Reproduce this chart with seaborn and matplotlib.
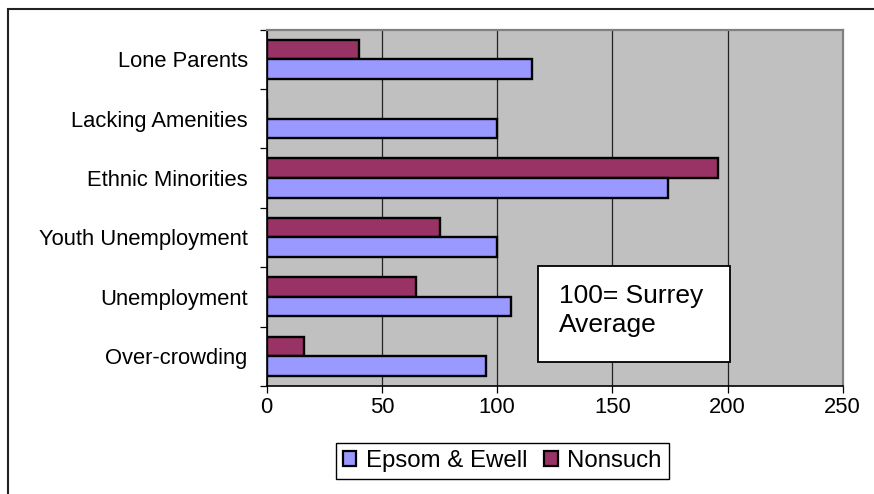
import matplotlib
matplotlib.use("Agg")
import matplotlib.pyplot as plt
import seaborn as sns
import pandas as pd
from matplotlib.patches import Rectangle, Patch
from matplotlib.ticker import FixedLocator

# ---- data ----
categories = ["Lone Parents", "Lacking Amenities", "Ethnic Minorities",
              "Youth Unemployment", "Unemployment", "Over-crowding"]
epsom = [115, 100, 174, 100, 106, 95]
nonsuch = [40, 0, 196, 75, 65, 16]
x_ticks = [0, 50, 100, 150, 200, 250]
note_lines = ["100= Surrey", "Average"]

df = pd.DataFrame({
    "Category": categories * 2,
    "Area": ["Nonsuch"] * len(categories) + ["Epsom & Ewell"] * len(categories),
    "Value": nonsuch + epsom,
})

sns.set_style("white")
plt.rcParams['font.family'] = ['Liberation Sans', 'DejaVu Sans']
plt.rcParams['text.color'] = 'black'
plt.rcParams['xtick.color'] = 'black'
plt.rcParams['ytick.color'] = 'black'
plt.rcParams['axes.labelcolor'] = 'black'

W, H = 874, 494
fig = plt.figure(figsize=(W / 100, H / 100), dpi=100)
fig.patch.set_facecolor("white")
ax = fig.add_axes([266.7 / W, 1 - 386 / H, (842.7 - 266.7) / W, (386 - 29.5) / H])

colors = {"Nonsuch": "#993366", "Epsom & Ewell": "#9999FF"}
sns.barplot(data=df, y="Category", x="Value", hue="Area",
            hue_order=["Nonsuch", "Epsom & Ewell"], order=categories,
            palette=colors, orient="h", width=0.66, gap=0,
            edgecolor="black", linewidth=1.7, saturation=1, ax=ax, legend=False)

ax.set_facecolor("#C0C0C0")
ax.set_xlim(0, 250)
ax.set_ylim(len(categories) - 0.5, -0.5)
ax.set_xticks(x_ticks)
ax.set_xticklabels([str(t) for t in x_ticks])
ax.grid(axis="x", color="#222222", linewidth=0.9)
ax.grid(axis="y", visible=False)
ax.set_axisbelow(True)
ax.set_xlabel("")
ax.set_ylabel("")

ax.yaxis.set_minor_locator(FixedLocator([i - 0.5 for i in range(len(categories) + 1)]))
ax.tick_params(axis="y", which="major", left=True, length=0, pad=13.7, labelsize=15.8,
               labelcolor="black")
ax.tick_params(axis="y", which="minor", left=True, length=5, width=0.9, color="black", direction="out")
ax.tick_params(axis="x", which="major", bottom=True, length=5, width=0.9, color="black",
               direction="out", pad=3, labelsize=15.8, labelcolor="black")

for s in ["left", "bottom"]:
    ax.spines[s].set_color("black")
    ax.spines[s].set_linewidth(1.2)
for s in ["top", "right"]:
    ax.spines[s].set_color("#808080")
    ax.spines[s].set_linewidth(1.6)

handles = [Patch(facecolor="#9999FF", edgecolor="black", linewidth=1.6, label="Epsom & Ewell"),
           Patch(facecolor="#993366", edgecolor="black", linewidth=1.6, label="Nonsuch")]
leg = fig.legend(handles=handles, loc="upper left", bbox_to_anchor=(336 / W, 1 - 443 / H),
                 ncol=2, frameon=True, fancybox=False, edgecolor="black", framealpha=1,
                 fontsize=17.3, handlelength=0.55, handleheight=0.55, handletextpad=0.4,
                 columnspacing=0.7, borderpad=0.3, borderaxespad=0, labelcolor="black")
leg.get_frame().set_linewidth(1.0)

# note box
fig.add_artist(Rectangle((538 / W, 1 - 362 / H), 192 / W, 96 / H, transform=fig.transFigure,
                         facecolor="white", edgecolor="black", linewidth=1.3, zorder=5))
fig.text(559 / W, 1 - 303 / H, note_lines[0], fontsize=19, va="baseline", ha="left",
         color="black", zorder=6)
fig.text(559 / W, 1 - 332 / H, note_lines[1], fontsize=19, va="baseline", ha="left",
         color="black", zorder=6)

# outer chart border
fig.add_artist(Rectangle((8 / W, -0.05), 1.0, (1 - 9 / H) + 0.05, transform=fig.transFigure,
                         fill=False, edgecolor="#222222", linewidth=1.5))

fig.savefig("out.png", dpi=100)
